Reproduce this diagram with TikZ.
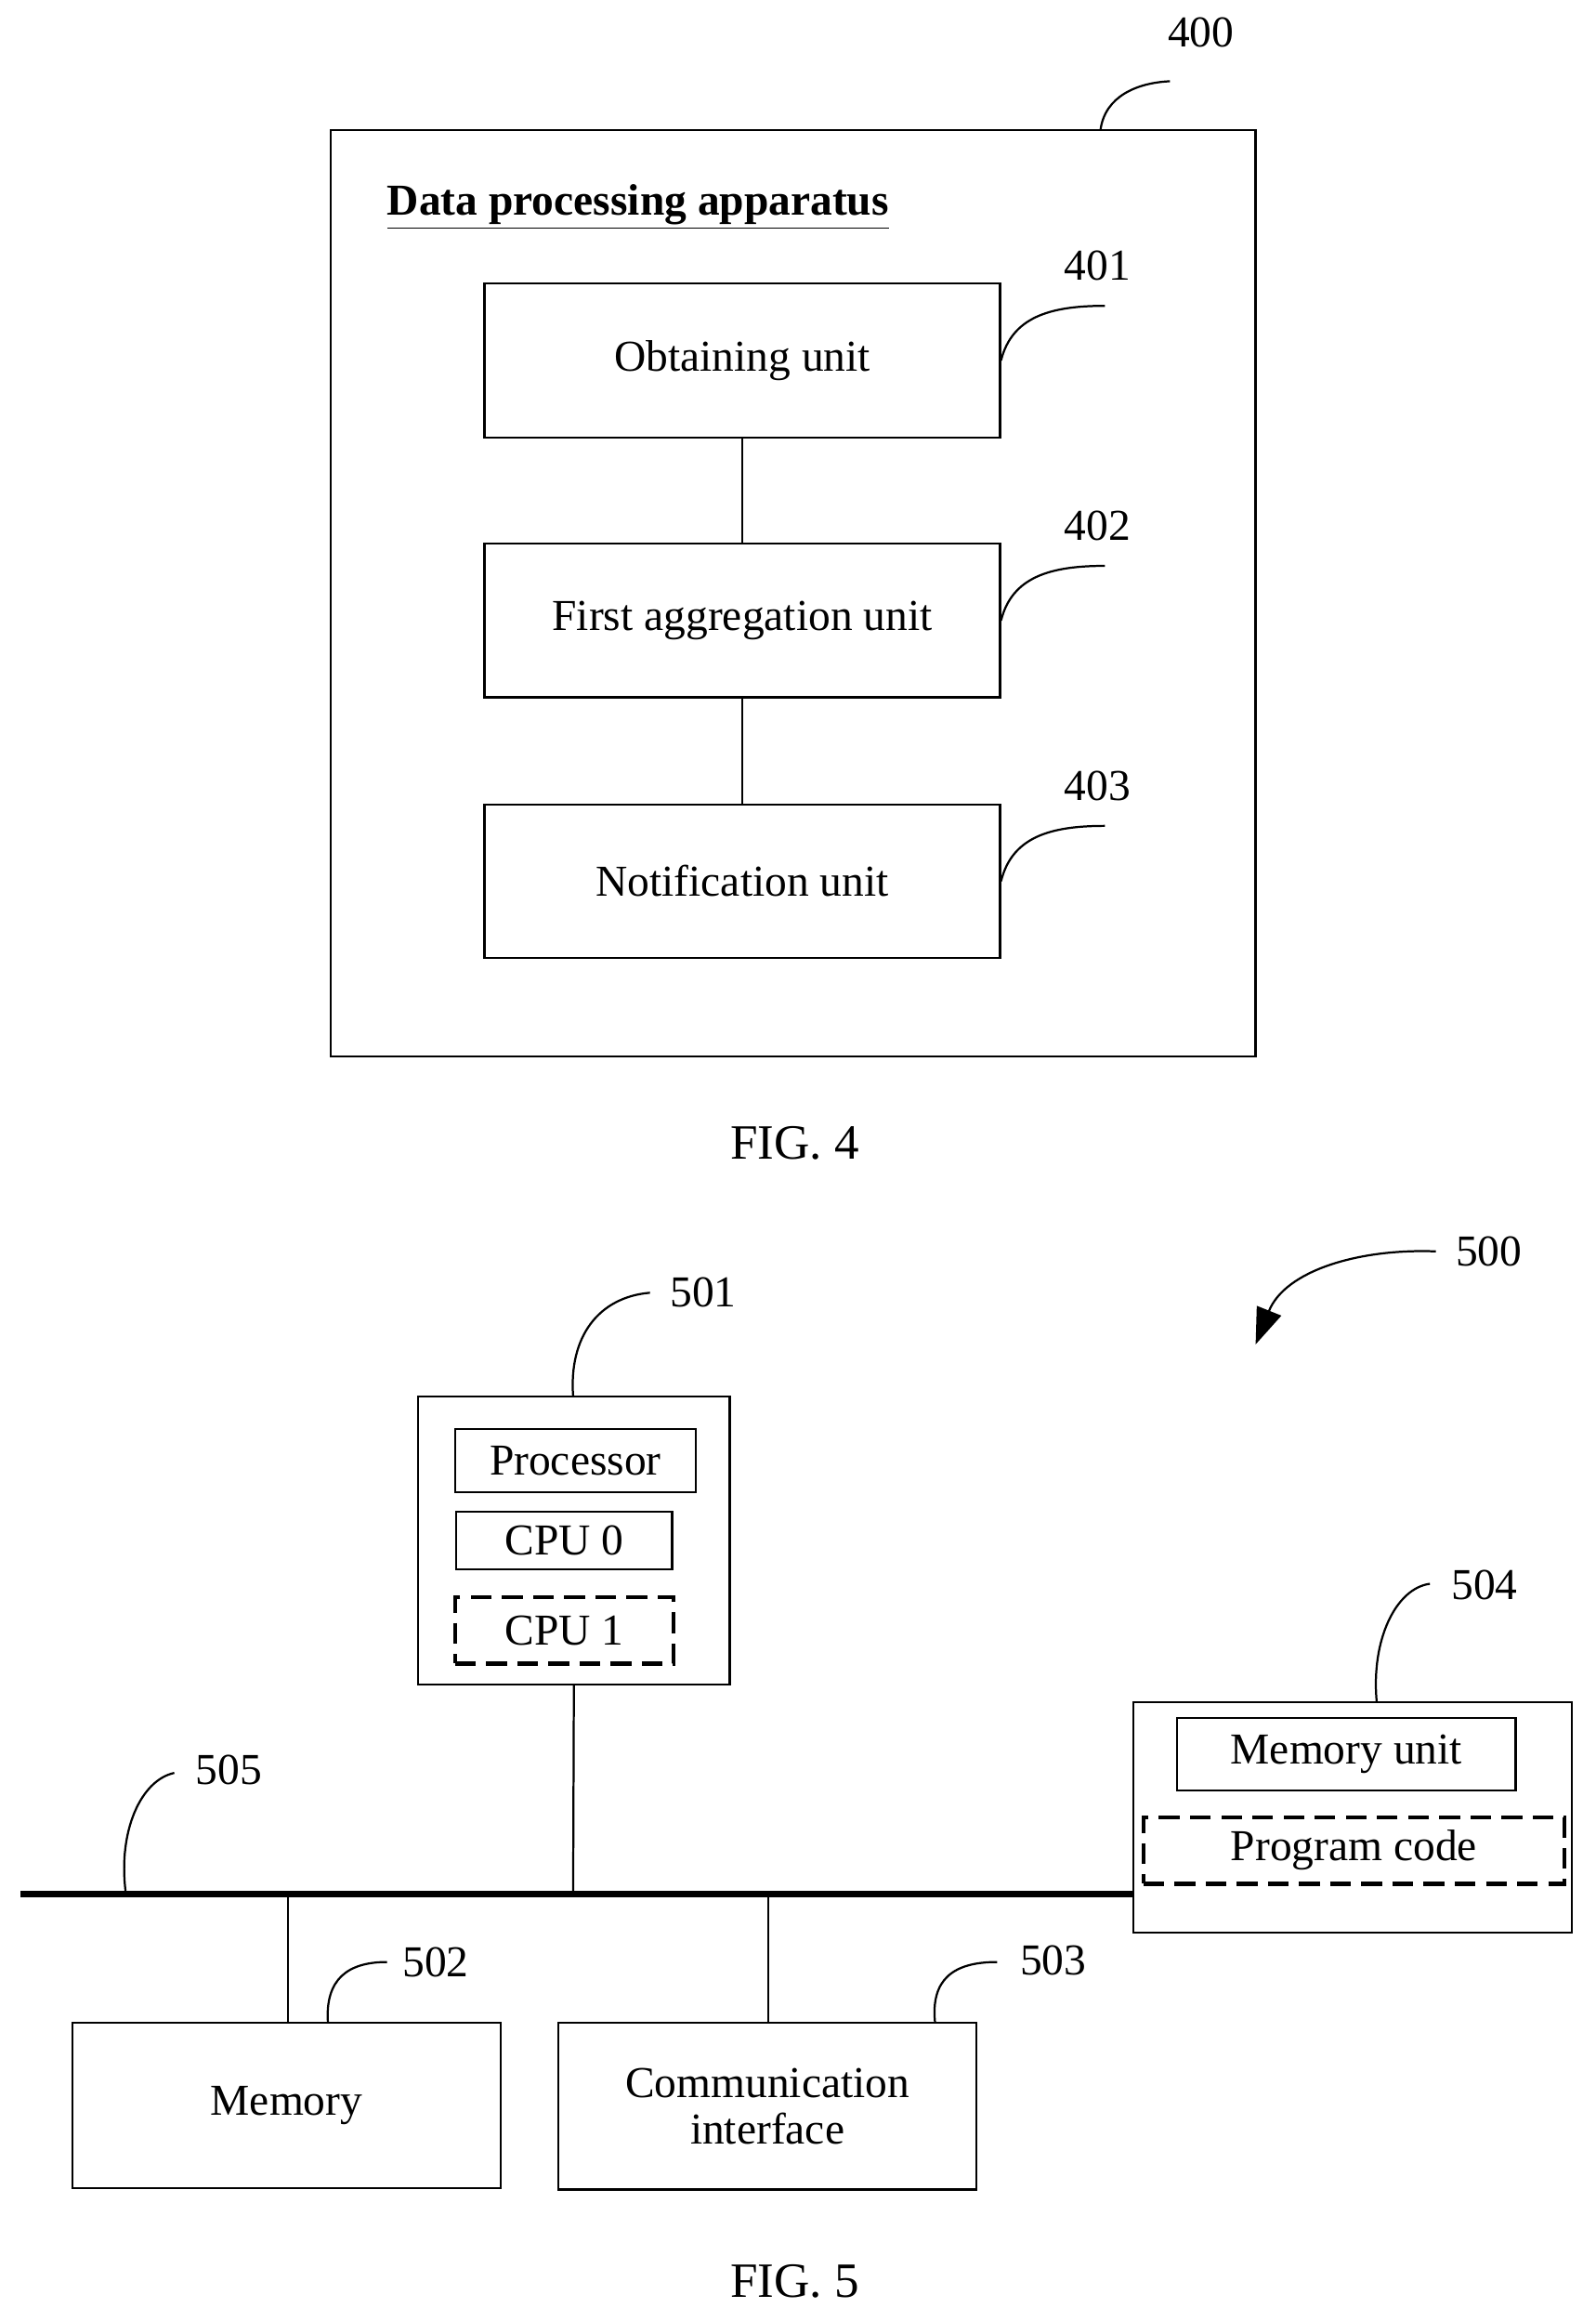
\documentclass[tikz,border=0pt]{standalone}
\usepackage{fontspec}
\setmainfont{Liberation Serif}
\usetikzlibrary{arrows.meta}
\tikzset{
  unit/.style={draw,thick,minimum width=6.98cm,minimum height=2.08cm},
  small/.style={draw,thick,inner sep=0pt},
  dashbox/.style={draw,line width=1.6pt,dash pattern=on 8pt off 4pt,inner sep=0pt},
  lead/.style={thick},
  fig/.style={font=\fontsize{19}{22}\selectfont},
}
\begin{document}
\fontsize{17}{20}\selectfont
\begin{tikzpicture}[x=0.02cm,y=-0.02cm]
\useasboundingbox (0,0) rectangle (1080,1571);
% FIG. 4
\node[draw,thick,minimum width=12.52cm,minimum height=12.54cm](app) at (537,401.5){};
\node[font=\bfseries](title) at (432,140){\underline{Data processing apparatus}};
\node[unit](obt) at (502.5,244){Obtaining unit};
\node[unit](agg) at (502.5,420){First aggregation unit};
\node[unit](noti) at (502.5,596.5){Notification unit};
\draw[thick] (obt)--(agg);
\draw[thick] (agg)--(noti);
\node(n400) at (813,22){400};
\node(n401) at (743,180){401};
\node(n402) at (743,356){402};
\node(n403) at (743,532){403};
\coordinate(c400) at (792,55);
\coordinate(c401) at (748,207);
\coordinate(c402) at (748,383);
\coordinate(c403) at (748,559);
\draw[lead] (745,88) .. controls (748,65) and (770,56) .. (c400);
\draw[lead] (obt.east) .. controls (685,215) and (710,207) .. (c401);
\draw[lead] (agg.east) .. controls (685,391) and (710,383) .. (c402);
\draw[lead] (noti.east) .. controls (685,567) and (710,559) .. (c403);
\node[fig](fig4) at (538,774){FIG. 4};
% FIG. 5
\node[draw,thick,minimum width=4.22cm,minimum height=3.9cm](proc) at (388.5,1042.5){};
\node[small,minimum width=3.26cm,minimum height=0.86cm](pname) at (389.5,988.5){Processor};
\node[small,minimum width=2.92cm,minimum height=0.78cm](cpu0) at (382,1042.5){CPU 0};
\node[dashbox,minimum width=2.96cm,minimum height=0.9cm](cpu1) at (382,1103.5){CPU 1};
\node[draw,thick,minimum width=5.94cm,minimum height=3.12cm](mem4) at (915.5,1230){};
\node[small,minimum width=4.58cm,minimum height=0.98cm](munit) at (911.5,1187.5){Memory unit};
\node[dashbox,minimum width=5.7cm,minimum height=0.9cm](pcode) at (916.5,1252.5){Program code};
\node[draw,thick,minimum width=5.8cm,minimum height=2.24cm](memory) at (194,1425){Memory};
\node[draw,thick,minimum width=5.66cm,minimum height=2.26cm,align=center,text width=5cm](comm) at (519.5,1425.5){Communication\\[-2pt]interface};
\coordinate(busl) at (14,1282);
\coordinate(busr) at (768,1282);
\draw[line width=2.2pt] (busl)--(busr);
\coordinate(tp) at (388,1282);
\coordinate(tm) at (195,1282);
\coordinate(tc) at (520,1282);
\draw[thick] (proc.south)--(tp);
\draw[thick] (tm)--(memory.north-|tm);
\draw[thick] (tc)--(comm.north-|tc);
\node(n500) at (1008,847){500};
\node(n501) at (476,875){501};
\node(n502) at (295,1328){502};
\node(n503) at (713,1327){503};
\node(n504) at (1005,1073){504};
\node(n505) at (155,1198){505};
\coordinate(c500) at (972,847);
\coordinate(a500) at (850,910);
\coordinate(c501) at (440,875);
\coordinate(c502) at (262,1328);
\coordinate(c503) at (675,1328);
\coordinate(c504) at (968,1072);
\coordinate(c505) at (118,1200);
\draw[lead,-{Triangle[length=14pt,width=10pt]}] (c500) .. controls (920,845) and (870,860) .. (a500);
\draw[lead] (388,945) .. controls (385,905) and (405,878) .. (c501);
\draw[lead] (222,1369) .. controls (220,1340) and (235,1328) .. (c502);
\draw[lead] (633,1369) .. controls (630,1340) and (645,1328) .. (c503);
\draw[lead] (932,1152) .. controls (928,1110) and (945,1075) .. (c504);
\draw[lead] (85,1280) .. controls (80,1240) and (95,1205) .. (c505);
\node[fig](fig5) at (538,1544){FIG. 5};
\end{tikzpicture}
\end{document}
